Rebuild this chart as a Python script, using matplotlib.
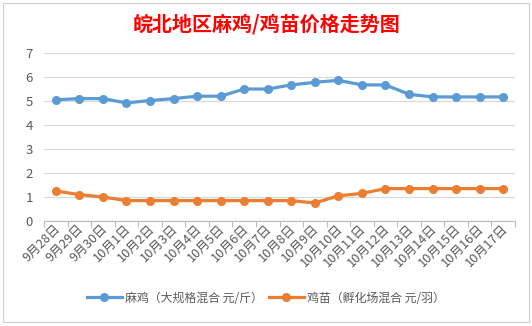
import numpy as np
import matplotlib
matplotlib.use("Agg")
import matplotlib.pyplot as plt
from matplotlib.patches import Rectangle

plt.rcParams["font.family"] = ["Noto Sans CJK SC", "DejaVu Sans"]

# --- data ---
dates = ["9月28日", "9月29日", "9月30日"] + [f"10月{d}日" for d in range(1, 18)]
chicken = [5.05, 5.1, 5.1, 4.92, 5.02, 5.1, 5.2, 5.2, 5.5, 5.5,
           5.67, 5.78, 5.86, 5.67, 5.67, 5.28, 5.17, 5.17, 5.17, 5.17]
chick = [1.25, 1.1, 1.0, 0.85, 0.85, 0.85, 0.85, 0.85, 0.85, 0.85,
         0.85, 0.75, 1.05, 1.15, 1.35, 1.35, 1.35, 1.35, 1.35, 1.35]
chicken_label = "麻鸡（大规格混合 元/斤）"
chick_label = "鸡苗（孵化场混合 元/羽）"
title = "皖北地区麻鸡/鸡苗价格走势图"

BLUE = "#5B9BD5"
ORANGE = "#ED7D31"
GREY = "#595959"

W, H = 532, 326
fig = plt.figure(figsize=(W / 100, H / 100), dpi=100)

# chart area border
fig.patches.append(Rectangle((3 / W, 1 - 322 / H), 526 / W, 319 / H,
                             transform=fig.transFigure, fill=False,
                             edgecolor="#d0d0d0", lw=0.8))

ax = fig.add_axes([44 / W, 1 - 221 / H, 471 / W, 168 / H])
x = np.arange(len(dates))
ax.plot(x, chicken, "-o", color=BLUE, lw=2.3, ms=5.5, label=chicken_label)
ax.plot(x, chick, "-o", color=ORANGE, lw=2.3, ms=5.5, label=chick_label)

ax.set_xlim(-0.5, len(dates) - 0.5)
ax.set_ylim(0, 7)
ax.set_yticks(range(0, 8))
ax.grid(axis="y", color="#d9d9d9", lw=0.9)
ax.set_axisbelow(True)
for s in ["top", "right", "left"]:
    ax.spines[s].set_visible(False)
ax.spines["bottom"].set_color("#bfbfbf")
ax.spines["bottom"].set_linewidth(0.9)

ax.tick_params(axis="y", length=0, labelsize=9.5, labelcolor=GREY, pad=8)
ax.set_xticks(np.arange(-0.5, len(dates)))
ax.set_xticklabels([])
ax.tick_params(axis="x", length=4, color="#bfbfbf", direction="out")
for i, d in enumerate(dates):
    ax.text(i + 0.1, -0.25, d, rotation=45, rotation_mode="anchor",
            ha="right", va="center", fontsize=9.2, color=GREY)

fig.text(0.5, 1 - 24 / H, title, ha="center", va="center",
         fontsize=14.4, fontweight="bold", color="#ff0000")

fig.legend(loc="center", bbox_to_anchor=(0.5, 1 - 298 / H), ncol=2,
           frameon=False, fontsize=8.6, labelcolor=GREY, handlelength=2.9,
           columnspacing=0.5, handletextpad=0.3)

fig.savefig("out.png", dpi=100)
